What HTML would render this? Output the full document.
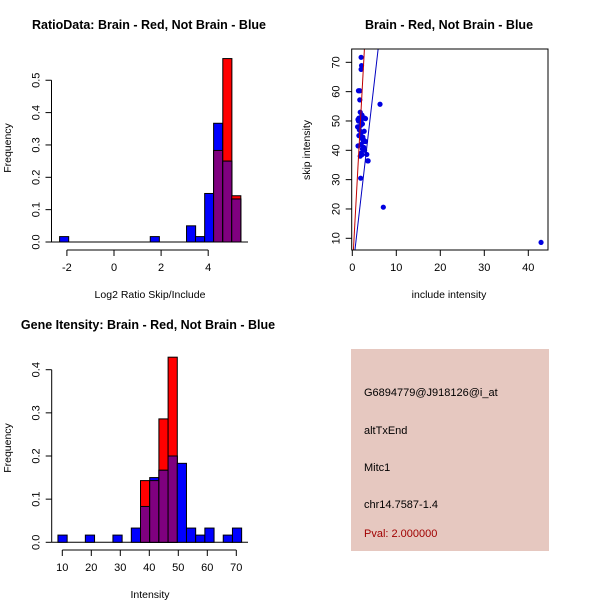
<!DOCTYPE html>
<html><head><meta charset="utf-8"><style>
html,body{margin:0;padding:0;background:#fff;}
svg{display:block;font-family:"Liberation Sans","DejaVu Sans",sans-serif;}
</style></head><body>
<svg id="chart" width="600" height="600" viewBox="0 0 600 600" xmlns="http://www.w3.org/2000/svg">
<rect width="600" height="600" fill="#fff"/>
<g id="p1"></g>
<g id="p2"></g>
<g id="p3"></g>
<g id="p4">
<rect x="351" y="349" width="198" height="202" fill="#e6c8c0"/>
<text x="364" y="396" font-size="11">G6894779@J918126@i_at</text>
<text x="364" y="434" font-size="11">altTxEnd</text>
<text x="364" y="471" font-size="11">Mitc1</text>
<text x="364" y="508" font-size="11">chr14.7587-1.4</text>
<text x="364" y="537" font-size="11" fill="#a00000">Pval: 2.000000</text>
</g>
</svg>
<script>
// ---- Panel 1 data (log2 ratio histogram) ----
const ratioBinStarts = [-2.31, 1.54, 3.08, 3.46, 3.85, 4.23, 4.62, 5.00];
const ratioBlue = [0.0167, 0.0167, 0.05, 0.0167, 0.15, 0.367, 0.25, 0.133];
const ratioRed = [0, 0, 0, 0, 0, 0.283, 0.567, 0.143];
const ratioBinWidth = 0.386;
const ratioXTicks = [-2, 0, 2, 4];
const ratioYTicks = [0, 0.1, 0.2, 0.3, 0.4, 0.5];
// ---- Panel 2 data (scatter) ----
const includeVals = [2.0,2.1,2.0,1.4,1.7,1.7,6.3,7.05,42.9,1.9,3.3,3.6,3.5,
 1.3,1.5,1.2,1.8,2.2,2.5,2.8,3.0,2.0,2.3,1.6,2.0,2.7,1.5,2.2,2.5,3.0,1.3,2.0,2.6,2.8,2.0,1.8,2.2,2.4,1.9,2.3,1.4,2.6];
const skipVals = [71.7,68.9,67.6,60.3,60.3,57.2,55.7,20.6,8.6,30.5,38.6,36.4,36.4,
 50.5,51,48,53,52,51,51,50.8,50,49,47,46,46.5,45,44,43,43,41.5,42,41,40,39,38,38.5,44.5,48.5,40.5,50,43.5];
const scatterXTicks = [0,10,20,30,40];
const scatterYTicks = [10,20,30,40,50,60,70];
const fitLines = [{a:-0.85,b:27.4,color:"#c00000",name:"brain-fit-line"},{a:-1.8,b:13.0,color:"#0000c0",name:"not-brain-fit-line"}];
// ---- Panel 3 data (intensity histogram) ----
const intBinStarts = [8.5,17.95,27.46,33.8,36.97,40.14,43.31,46.48,49.65,52.82,55.99,59.16,65.5,68.67];
const intBlue = [0.0167,0.0167,0.0167,0.033,0.083,0.15,0.167,0.2,0.183,0.033,0.0167,0.033,0.0167,0.033];
const intRed = [0,0,0,0,0.143,0.143,0.286,0.429,0,0,0,0,0,0];
const intBinWidth = 3.17;
const intXTicks = [10,20,30,40,50,60,70];
const intYTicks = [0,0.1,0.2,0.3,0.4];

const NS="http://www.w3.org/2000/svg";
function mk(parent,tag,attrs,text){const e=document.createElementNS(NS,tag);for(const k in attrs)e.setAttribute(k,attrs[k]);if(text!==undefined)e.textContent=text;parent.appendChild(e);return e;}
function fmt(v,d){return v.toFixed(d);}

function histogram(g,o){
  const sx=v=>o.x0+(v-o.v0)*o.kx, sy=v=>o.y0-v*o.ky;
  const base=mk(g,'line',{x1:o.yaxX,x2:o.baseEnd,y1:o.y0,y2:o.y0,stroke:'#000'});
  
  
  o.starts.forEach((s,i)=>{
    const x1=sx(s),x2=sx(s+o.w);
    const r=o.red[i],b=o.blue[i],m=Math.min(r,b);
    if(r>0){const e=mk(g,'rect',{x:x1,y:sy(r),width:x2-x1,height:sy(0)-sy(r),fill:'#ff0000',stroke:'#000','stroke-width':1});
      
      }
    if(b>0){const e=mk(g,'rect',{x:x1,y:sy(b),width:x2-x1,height:sy(0)-sy(b),fill:'#0000ff',stroke:'#000','stroke-width':1});
      
      }
    if(m>0){const e=mk(g,'rect',{x:x1,y:sy(m),width:x2-x1,height:sy(0)-sy(m),fill:'#7f007f',stroke:'#000','stroke-width':1});
      
      }
  });
  // x axis
  const xa=mk(g,'g',{});
  
  
  mk(xa,'line',{x1:sx(o.xt[0]),x2:sx(o.xt[o.xt.length-1]),y1:o.xaxY,y2:o.xaxY,stroke:'#000'});
  o.xt.forEach(t=>{mk(xa,'line',{x1:sx(t),x2:sx(t),y1:o.xaxY,y2:o.xaxY+6,stroke:'#000'});
    const l=mk(xa,'text',{x:sx(t),y:o.xaxY+21,'font-size':11,'text-anchor':'middle'},String(t));
    
    });
  // y axis
  const ya=mk(g,'g',{});
  
  
  mk(ya,'line',{x1:o.yaxX,x2:o.yaxX,y1:sy(o.yt[0]),y2:sy(o.yt[o.yt.length-1]),stroke:'#000'});
  o.yt.forEach(t=>{mk(ya,'line',{x1:o.yaxX,x2:o.yaxX-6,y1:sy(t),y2:sy(t),stroke:'#000'});
    const l=mk(ya,'text',{x:0,y:0,'font-size':11,'text-anchor':'middle',transform:`translate(${o.yaxX-12},${sy(t)}) rotate(-90)`},fmt(t,1));
    
    });
}

const p1=document.getElementById('p1');
histogram(p1,{x0:114,v0:0,kx:23.55,y0:242,ky:323.5,starts:ratioBinStarts,w:ratioBinWidth,red:ratioRed,blue:ratioBlue,xt:ratioXTicks,yt:ratioYTicks,xaxY:250,yaxX:51.5,baseEnd:248});
const p3=document.getElementById('p3');
histogram(p3,{x0:62.3,v0:10,kx:2.9,y0:542.3,ky:431.5,starts:intBinStarts,w:intBinWidth,red:intRed,blue:intBlue,xt:intXTicks,yt:intYTicks,xaxY:550,yaxX:51.7,baseEnd:248});

function texts(g,items){items.forEach(it=>{const e=mk(g,'text',it.a,it.t);});}
texts(p1,[
 {n:'chart-title',t:'RatioData: Brain - Red, Not Brain - Blue',a:{x:149,y:29,'font-size':12.5,'font-weight':'bold','text-anchor':'middle'}},
 {n:'x-axis-title',t:'Log2 Ratio Skip/Include',a:{x:150,y:298,'font-size':10.5,'text-anchor':'middle'}},
 {n:'y-axis-title',t:'Frequency',a:{x:0,y:0,'font-size':10.5,'text-anchor':'middle',transform:'translate(11,148) rotate(-90)'}}]);
texts(p3,[
 {n:'chart-title',t:'Gene Itensity: Brain - Red, Not Brain - Blue',a:{x:148,y:329,'font-size':12.5,'font-weight':'bold','text-anchor':'middle'}},
 {n:'x-axis-title',t:'Intensity',a:{x:150,y:598,'font-size':10.5,'text-anchor':'middle'}},
 {n:'y-axis-title',t:'Frequency',a:{x:0,y:0,'font-size':10.5,'text-anchor':'middle',transform:'translate(11,448) rotate(-90)'}}]);

// scatter
const p2=document.getElementById('p2');
const L=351.7,R=548,T=49,B=250;
const sx2=v=>352.3+v*4.4, sy2=v=>238.3-(v-10)*2.933;
const inv=py=>10+(238.3-py)/2.933;
mk(p2,'defs',{}).innerHTML='<clipPath id="clipS"><rect x="'+L+'" y="'+T+'" width="'+(R-L)+'" height="'+(B-T)+'"/></clipPath>';
includeVals.forEach((xv,i)=>{const c=mk(p2,'circle',{cx:sx2(xv),cy:sy2(skipVals[i]),r:2.6,fill:'#0000e0'});
  
  });
const lg=mk(p2,'g',{'clip-path':'url(#clipS)'});
fitLines.forEach(f=>{const yb=inv(B+5),yt=inv(T-5);
  const l=mk(lg,'line',{x1:sx2((yb-f.a)/f.b),y1:sy2(yb),x2:sx2((yt-f.a)/f.b),y2:sy2(yt),stroke:f.color,'stroke-width':1});
  
  });
const box=mk(p2,'rect',{x:L,y:T,width:R-L,height:B-T,fill:'none',stroke:'#000'});


scatterXTicks.forEach(t=>{mk(p2,'line',{x1:sx2(t),x2:sx2(t),y1:B,y2:B+6,stroke:'#000'});
  const l=mk(p2,'text',{x:sx2(t),y:B+21,'font-size':11,'text-anchor':'middle'},String(t));
  
  });
scatterYTicks.forEach(t=>{mk(p2,'line',{x1:L,x2:L-6,y1:sy2(t),y2:sy2(t),stroke:'#000'});
  const l=mk(p2,'text',{x:0,y:0,'font-size':11,'text-anchor':'middle',transform:`translate(${L-12},${sy2(t)}) rotate(-90)`},String(t));
  
  });
texts(p2,[
 {n:'chart-title',t:'Brain - Red, Not Brain - Blue',a:{x:449,y:29,'font-size':12.5,'font-weight':'bold','text-anchor':'middle'}},
 {n:'x-axis-title',t:'include intensity',a:{x:449,y:298,'font-size':10.5,'text-anchor':'middle'}},
 {n:'y-axis-title',t:'skip intensity',a:{x:0,y:0,'font-size':10.5,'text-anchor':'middle',transform:'translate(310,150) rotate(-90)'}}]);
</script>
</body></html>
